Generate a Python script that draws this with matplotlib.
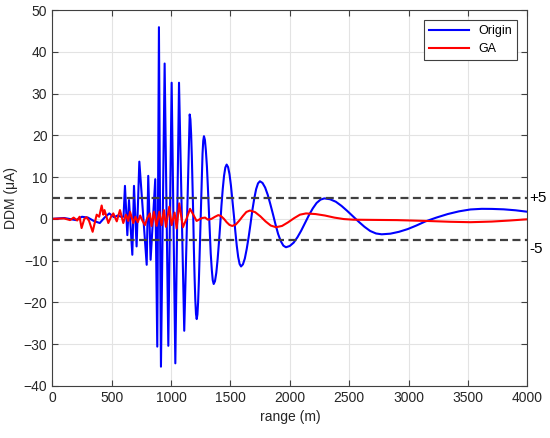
import matplotlib
matplotlib.use("Agg")
import matplotlib.pyplot as plt

plt.rcParams['font.family'] = ['Liberation Sans', 'DejaVu Sans']

# Origin DDM curve
origin_x = [0, 100, 200, 250, 300, 350, 400, 440, 480, 520, 550, 580, 600,
            612, 632, 646, 674, 688, 710, 733, 795, 808, 828, 867, 884, 898,
            915, 946, 977, 1005, 1036, 1067, 1111, 1157,
            1163, 1169, 1175, 1181, 1187, 1192, 1198, 1204, 1210, 1216,
            1222, 1228, 1234, 1240, 1246, 1253, 1259, 1265, 1271, 1277,
            1285, 1293, 1302, 1310, 1318, 1326, 1334, 1343, 1351, 1359,
            1370, 1381, 1392, 1403, 1414, 1424, 1435, 1446, 1457, 1468,
            1480, 1492, 1504, 1516, 1529, 1541, 1553, 1565, 1577, 1589,
            1605, 1621, 1637, 1653, 1669, 1684, 1700, 1716, 1732, 1748,
            1770, 1792, 1814, 1836, 1858, 1879, 1901, 1923, 1945, 1967,
            1999, 2032, 2064, 2096, 2129, 2161, 2193, 2225, 2258, 2290,
            2338, 2387, 2435, 2483, 2532, 2580, 2628, 2676, 2725, 2773,
            2846, 2919, 2992, 3065, 3138, 3233, 3329, 3424, 3520, 3615,
            3700, 3800, 3900, 4000]
origin_y = [0, 0.2, -0.3, 0.5, 0.3, -0.5, -1.0, 0.3, 1.3, 0.4, 0.8, 0.5, 0.5,
            7.9, -3.9, 4.5, -8.6, 7.9, -6.6, 13.7, -11.0, 10.3, -9.8, 9.5, -30.6, 45.9,
            -35.4, 37.2, -30.4, 32.6, -34.6, 32.6, -26.8, 25.0,
            23.8, 20.3, 14.9, 8.1, 0.5, -7.1, -13.9, -19.3, -22.8, -24.0,
            -22.9, -19.8, -15.0, -8.9, -2.1, 4.7, 10.8, 15.6, 18.7, 19.8,
            18.9, 16.4, 12.5, 7.6, 2.1, -3.4, -8.3, -12.2, -14.7, -15.6,
            -14.9, -12.9, -9.7, -5.7, -1.3, 3.1, 7.1, 10.3, 12.3, 13.0,
            12.4, 10.7, 8.0, 4.6, 0.8, -3.0, -6.4, -9.1, -10.8, -11.4,
            -10.9, -9.5, -7.2, -4.4, -1.2, 2.0, 4.8, 7.1, 8.5, 9.0,
            8.6, 7.5, 5.75, 3.5, 1.1, -1.3, -3.6, -5.3, -6.4, -6.8,
            -6.5, -5.7, -4.4, -2.8, -0.95, 0.9, 2.5, 3.8, 4.6, 4.9,
            4.7, 4.1, 3.1, 1.9, 0.6, -0.7, -1.9, -2.9, -3.5, -3.7,
            -3.55, -3.1, -2.45, -1.6, -0.65, 0.3, 1.15, 1.8, 2.25, 2.4,
            2.38, 2.28, 2.05, 1.7]

# GA optimised DDM curve
ga_x = [0, 100, 150, 180, 210, 230, 247, 270, 289, 310, 340, 374, 395, 416,
        430, 440, 472, 495, 514, 543, 570, 598, 620, 640, 655, 682, 700, 720,
        740, 760, 780, 800, 822, 836, 856, 878, 901, 920, 940, 957, 985, 1005,
        1030, 1047, 1069, 1100, 1130, 1160, 1187, 1215, 1260, 1287, 1310, 1340,
        1370, 1398, 1421, 1445, 1468, 1492, 1515, 1545, 1575, 1605, 1634, 1664,
        1708, 1752, 1795, 1839, 1883, 1934, 1984, 2035, 2085, 2136,
        2216, 2295, 2375, 2454, 2534, 2700, 2900, 3150, 3350, 3520, 3700,
        3850, 4000]
ga_y = [0, 0.1, -0.3, 0.3, -0.4, 0.5, -2.2, 0.0, 0.4, -0.5, -3.1, 1.0, 0.5, 3.2,
        1.0, 2.1, -1.0, 0.5, 1.3, -0.6, 2.1, -1.0, 1.0, -0.5, 1.7, -1.0, 0.5, -0.8,
        0.8, -0.5, -1.5, 0.2, 1.3, -1.7, 1.7, -1.7, 1.7, -1.5, 2.1, -1.9, 2.9, -1.5,
        1.5, -2.3, 3.7, -2.0, 0.0, 2.4, 1.0, -0.5, 0.2, 0.3, -0.2, 0.0,
        0.5, 0.9, 0.65, 0.0, -0.8, -1.45, -1.7, -1.35, -0.4, 0.7, 1.65, 2.0,
        1.6, 0.6, -0.6, -1.6, -2.0, -1.7, -0.85, 0.15, 1.0, 1.3,
        1.15, 0.8, 0.3, -0.05, -0.2, -0.25, -0.3, -0.5, -0.7, -0.8, -0.65,
        -0.4, -0.1]

limit = 5

fig = plt.figure(figsize=(5.5, 4.38), dpi=100)
ax = fig.add_axes([0.095, 0.119, 0.864, 0.858])

ax.plot(origin_x, origin_y, color='blue', lw=1.5, label='Origin')
ax.plot(ga_x, ga_y, color='red', lw=1.5, label='GA')
ax.axhline(limit, color='#404040', ls=(0, (3.6, 2.0)), lw=1.6)
ax.axhline(-limit, color='#404040', ls=(0, (3.6, 2.0)), lw=1.6)

ax.text(1.003, limit, '+5', transform=ax.get_yaxis_transform(),
        va='center', ha='left', fontsize=11)
ax.text(1.003, -limit - 2.2, '-5', transform=ax.get_yaxis_transform(),
        va='center', ha='left', fontsize=11)

ax.set_xlim(0, 4000)
ax.set_ylim(-40, 50)
ax.set_xticks(range(0, 4001, 500))
ax.set_yticks(range(-40, 51, 10))
ax.grid(True, color='#e3e3e3', lw=0.8)
ax.set_axisbelow(True)
ax.tick_params(direction='in', top=True, right=True, labelsize=10,
               color='#404040', labelcolor='#262626', length=4)
for s in ax.spines.values():
    s.set_color('#404040')
    s.set_linewidth(0.8)

ax.set_xlabel('range (m)', fontsize=10, color='#262626')
ax.set_ylabel('DDM (μA)', fontsize=10, color='#262626')

leg = ax.legend(loc='upper right', fontsize=9, fancybox=False,
                framealpha=1, edgecolor='#404040', handlelength=3.2,
                borderaxespad=0.8)
leg.get_frame().set_linewidth(0.8)

fig.savefig('out.png', dpi=100)
